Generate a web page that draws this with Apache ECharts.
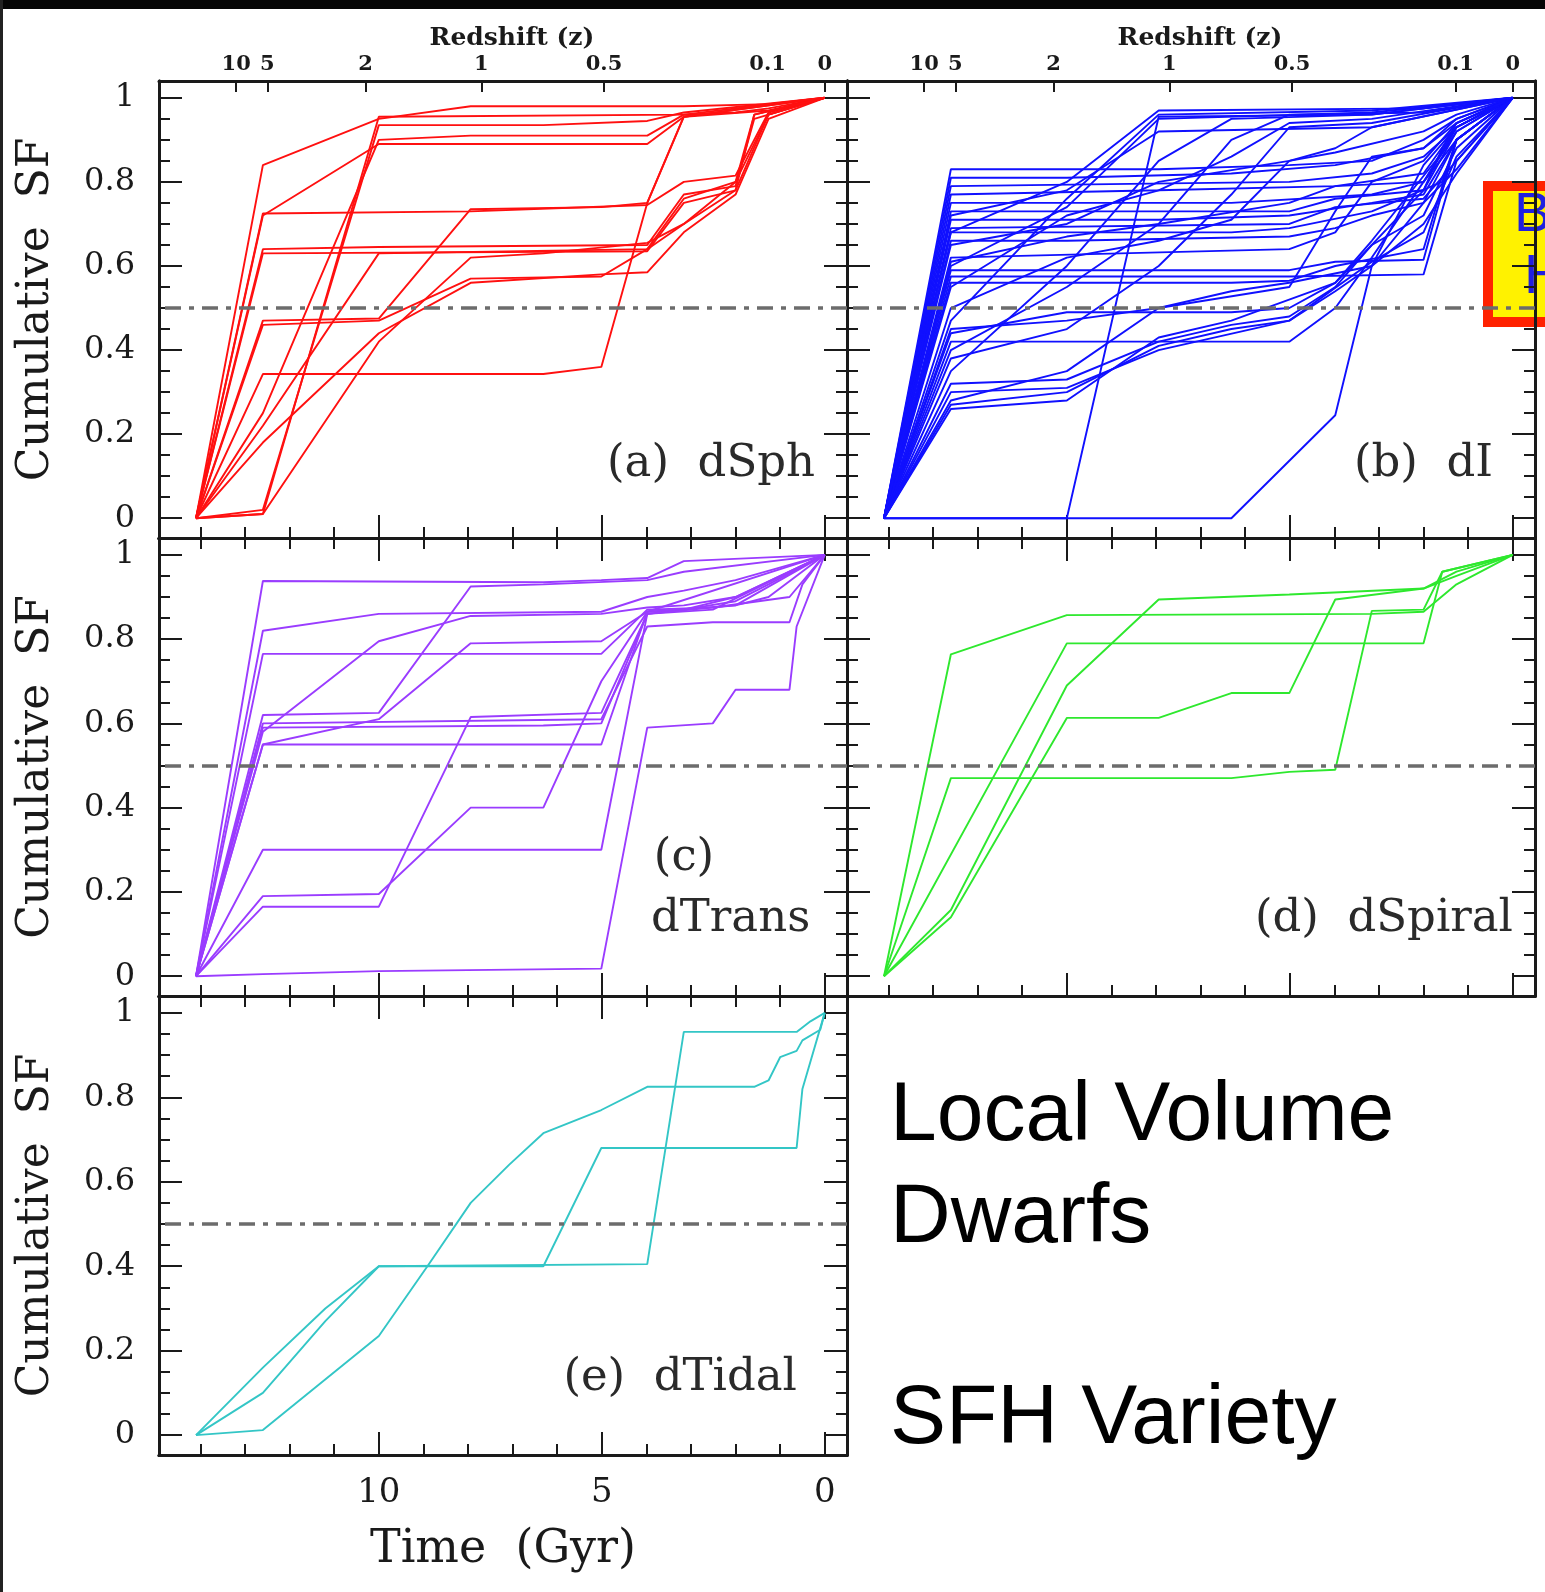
<!DOCTYPE html>
<html>
<head>
<meta charset="utf-8">
<title>Local Volume Dwarfs - SFH variety</title>
<script src="https://cdn.jsdelivr.net/npm/echarts@6/dist/echarts.min.js"></script>
<style>
  html, body { margin: 0; padding: 0; background: #fff; }
  #main { width: 1545px; height: 1592px; }
</style>
</head>
<body>
<div id="main"></div>
<script>
// ticks (lookback time in Gyr, cumulative SF fraction)
const timeMinorTicks = [0, 1, 2, 3, 4, 5, 6, 7, 8, 9, 10, 11, 12, 13, 14];
const timeMajorTicks = [0, 5, 10];
const sfMinorTicks = [0, 0.05, 0.1, 0.15, 0.2, 0.25, 0.3, 0.35, 0.4, 0.45, 0.5,
  0.55, 0.6, 0.65, 0.7, 0.75, 0.8, 0.85, 0.9, 0.95, 1];
const sfMajorTicks = [0, 0.2, 0.4, 0.6, 0.8, 1];
// redshift ticks on the top axis, placed at their lookback time
const redshiftTimes = [13.2, 12.5, 10.3, 7.7, 4.95, 1.28, 0];
const redshiftLabels = ['10', '5', '2', '1', '0.5', '0.1', '0'];

// each track: [time (Gyr ago), cumulative SF]
const dSphTracks = [
  [[14.1, 0], [12.6, 0.84], [10.0, 0.95], [7.94, 0.98], [3.16, 0.98], [1.26, 0.985], [0, 1]],
  [[14.1, 0], [12.6, 0.01], [10.0, 0.955], [3.16, 0.96], [2.0, 0.965], [1.26, 0.975], [0, 1]],
  [[14.1, 0], [12.6, 0.02], [10.0, 0.935], [6.31, 0.935], [3.98, 0.945], [3.16, 0.965], [0, 1]],
  [[14.1, 0], [12.6, 0.72], [10.0, 0.89], [3.98, 0.89], [3.16, 0.955], [1.26, 0.97], [0, 1]],
  [[14.1, 0], [12.6, 0.725], [7.94, 0.73], [3.98, 0.745], [3.16, 0.8], [2.0, 0.815], [1.26, 0.965], [0, 1]],
  [[14.1, 0], [12.6, 0.64], [10.0, 0.645], [3.98, 0.65], [3.16, 0.77], [2.0, 0.79], [1.58, 0.95], [0, 1]],
  [[14.1, 0], [12.6, 0.63], [3.98, 0.635], [3.16, 0.75], [2.0, 0.78], [1.26, 0.96], [0, 1]],
  [[14.1, 0], [12.6, 0.47], [10.0, 0.475], [7.94, 0.735], [5.01, 0.74], [3.98, 0.75], [3.16, 0.955], [0, 1]],
  [[14.1, 0], [12.6, 0.46], [10.0, 0.47], [7.94, 0.57], [5.01, 0.575], [3.98, 0.64], [3.16, 0.76], [2.0, 0.8], [1.26, 0.96], [0, 1]],
  [[14.1, 0], [12.6, 0.343], [6.31, 0.343], [5.01, 0.36], [3.98, 0.75], [3.16, 0.955], [0, 1]],
  [[14.1, 0], [12.6, 0.22], [10.0, 0.63], [3.98, 0.64], [3.16, 0.7], [2.0, 0.8], [1.58, 0.96], [0, 1]],
  [[14.1, 0], [12.6, 0.18], [10.0, 0.44], [7.94, 0.56], [5.01, 0.58], [3.98, 0.585], [3.16, 0.68], [2.0, 0.77], [1.26, 0.95], [0, 1]],
  [[14.1, 0], [12.6, 0.01], [10.0, 0.42], [7.94, 0.62], [6.31, 0.63], [3.98, 0.655], [3.16, 0.7], [2.0, 0.78], [1.58, 0.96], [0, 1]],
  [[14.1, 0], [12.6, 0.25], [10.0, 0.9], [7.94, 0.91], [3.98, 0.91], [3.16, 0.96], [0, 1]]
];

const dITracks = [
  [[14.1, 0], [12.6, 0.83], [7.94, 0.83], [5.01, 0.84], [3.16, 0.85], [2.0, 0.9], [1.26, 0.95], [0, 1]],
  [[14.1, 0], [12.6, 0.81], [10.0, 0.81], [6.31, 0.82], [3.98, 0.84], [2.0, 0.88], [1.26, 0.95], [0, 1]],
  [[14.1, 0], [12.6, 0.79], [5.01, 0.8], [3.16, 0.82], [2.0, 0.86], [1.26, 0.93], [0, 1]],
  [[14.1, 0], [12.6, 0.77], [7.94, 0.78], [3.98, 0.79], [2.0, 0.82], [1.26, 0.93], [0, 1]],
  [[14.1, 0], [12.6, 0.75], [6.31, 0.75], [3.16, 0.77], [2.0, 0.8], [1.26, 0.9], [0, 1]],
  [[14.1, 0], [12.6, 0.73], [5.01, 0.73], [3.98, 0.76], [2.0, 0.78], [1.58, 0.88], [1.26, 0.94], [0, 1]],
  [[14.1, 0], [12.6, 0.71], [7.94, 0.71], [5.01, 0.72], [3.16, 0.75], [2.0, 0.77], [1.26, 0.9], [0, 1]],
  [[14.1, 0], [12.6, 0.69], [5.01, 0.7], [3.98, 0.74], [2.0, 0.76], [1.26, 0.85], [0, 1]],
  [[14.1, 0], [12.6, 0.68], [6.31, 0.68], [5.01, 0.69], [3.16, 0.73], [1.58, 0.8], [1.26, 0.9], [0, 1]],
  [[14.1, 0], [12.6, 0.66], [10.0, 0.66], [5.01, 0.67], [3.98, 0.69], [3.16, 0.72], [2.0, 0.75], [1.26, 0.83], [0, 1]],
  [[14.1, 0], [12.6, 0.61], [10.0, 0.67], [7.94, 0.7], [5.01, 0.75], [3.98, 0.79], [2.0, 0.8], [1.26, 0.92], [0, 1]],
  [[14.1, 0], [12.6, 0.59], [5.01, 0.59], [3.98, 0.61], [2.0, 0.615], [1.26, 0.9], [0, 1]],
  [[14.1, 0], [12.6, 0.575], [5.01, 0.575], [2.0, 0.58], [1.26, 0.85], [0, 1]],
  [[14.1, 0], [12.6, 0.56], [6.31, 0.56], [5.01, 0.565], [3.98, 0.6], [2.0, 0.64], [1.58, 0.79], [1.26, 0.9], [0, 1]],
  [[14.1, 0], [12.6, 0.45], [10.0, 0.47], [7.94, 0.5], [6.31, 0.54], [5.01, 0.56], [3.16, 0.6], [2.0, 0.75], [1.26, 0.9], [0, 1]],
  [[14.1, 0], [12.6, 0.42], [5.01, 0.42], [3.98, 0.5], [3.16, 0.62], [2.0, 0.8], [1.26, 0.93], [0, 1]],
  [[14.1, 0], [12.6, 0.44], [10.0, 0.49], [6.31, 0.49], [5.01, 0.5], [3.98, 0.56], [3.16, 0.65], [2.0, 0.78], [1.26, 0.92], [0, 1]],
  [[14.1, 0], [12.6, 0.32], [10.0, 0.33], [7.94, 0.42], [6.31, 0.46], [5.01, 0.48], [3.98, 0.55], [3.16, 0.65], [2.0, 0.72], [1.26, 0.88], [0, 1]],
  [[14.1, 0], [12.6, 0.3], [10.0, 0.31], [7.94, 0.4], [5.01, 0.47], [3.98, 0.54], [3.16, 0.6], [2.0, 0.7], [1.26, 0.82], [0, 1]],
  [[14.1, 0], [12.6, 0.27], [10.0, 0.3], [7.94, 0.41], [6.31, 0.45], [5.01, 0.47], [3.16, 0.61], [2.0, 0.68], [1.26, 0.86], [0, 1]],
  [[14.1, 0], [12.6, 0.26], [10.0, 0.28], [7.94, 0.43], [6.31, 0.47], [3.98, 0.56], [3.16, 0.66], [1.58, 0.87], [1.26, 0.93], [0, 1]],
  [[14.1, 0], [10.0, 0], [7.94, 0.955], [3.16, 0.96], [0, 1]],
  [[14.1, 0], [6.31, 0], [3.98, 0.245], [3.16, 0.6], [2.0, 0.84], [1.26, 0.93], [0, 1]],
  [[14.1, 0], [12.6, 0.6], [10.0, 0.74], [7.94, 0.95], [3.16, 0.965], [0, 1]],
  [[14.1, 0], [12.6, 0.47], [10.0, 0.76], [7.94, 0.96], [3.16, 0.97], [0, 1]],
  [[14.1, 0], [12.6, 0.35], [10.0, 0.6], [7.94, 0.85], [6.31, 0.95], [3.16, 0.96], [0, 1]],
  [[14.1, 0], [12.6, 0.55], [10.0, 0.72], [7.94, 0.78], [6.31, 0.86], [5.01, 0.94], [3.16, 0.95], [0, 1]],
  [[14.1, 0], [12.6, 0.5], [10.0, 0.62], [7.94, 0.66], [6.31, 0.71], [5.01, 0.85], [3.98, 0.88], [3.16, 0.93], [0, 1]],
  [[14.1, 0], [12.6, 0.38], [10.0, 0.45], [7.94, 0.6], [6.31, 0.77], [5.01, 0.93], [3.16, 0.94], [0, 1]],
  [[14.1, 0], [12.6, 0.28], [10.0, 0.35], [7.94, 0.5], [5.01, 0.55], [3.98, 0.73], [3.16, 0.86], [2.0, 0.88], [1.26, 0.94], [0, 1]],
  [[14.1, 0], [12.6, 0.62], [5.01, 0.64], [3.98, 0.68], [3.16, 0.8], [2.0, 0.85], [1.26, 0.94], [0, 1]],
  [[14.1, 0], [12.6, 0.65], [10.0, 0.7], [7.94, 0.8], [5.01, 0.85], [3.98, 0.87], [2.0, 0.92], [1.26, 0.96], [0, 1]],
  [[14.1, 0], [12.6, 0.72], [10.0, 0.78], [7.94, 0.92], [3.16, 0.93], [0, 1]],
  [[14.1, 0], [12.6, 0.68], [10.0, 0.8], [7.94, 0.97], [2.0, 0.975], [0, 1]],
  [[14.1, 0], [12.6, 0.4], [10.0, 0.55], [7.94, 0.7], [6.31, 0.9], [5.01, 0.96], [2.0, 0.965], [0, 1]]
];

const dTransTracks = [
  [[14.1, 0], [12.6, 0.938], [6.31, 0.935], [5.01, 0.94], [3.98, 0.945], [3.16, 0.985], [0, 1]],
  [[14.1, 0], [12.6, 0.82], [10.0, 0.86], [5.01, 0.865], [3.98, 0.9], [3.16, 0.915], [2.0, 0.94], [0, 1]],
  [[14.1, 0], [12.6, 0.765], [5.01, 0.765], [3.98, 0.87], [2.51, 0.875], [0.79, 0.9], [0, 1]],
  [[14.1, 0], [12.6, 0.62], [10.0, 0.625], [7.94, 0.925], [6.31, 0.93], [3.98, 0.94], [3.16, 0.96], [0, 1]],
  [[14.1, 0], [12.6, 0.58], [10.0, 0.795], [7.94, 0.855], [5.01, 0.86], [3.98, 0.875], [3.16, 0.88], [2.0, 0.9], [0, 1]],
  [[14.1, 0], [12.6, 0.55], [10.0, 0.61], [7.94, 0.79], [5.01, 0.795], [3.98, 0.865], [3.16, 0.87], [2.0, 0.9], [0, 1]],
  [[14.1, 0], [12.6, 0.59], [6.31, 0.595], [5.01, 0.6], [3.98, 0.86], [3.16, 0.87], [2.0, 0.89], [1.26, 0.93], [0, 1]],
  [[14.1, 0], [12.6, 0.55], [5.01, 0.55], [3.98, 0.865], [2.0, 0.88], [1.26, 0.9], [0, 1]],
  [[14.1, 0], [12.6, 0.3], [5.01, 0.3], [3.98, 0.86], [2.51, 0.87], [0, 1]],
  [[14.1, 0], [12.6, 0.19], [10.0, 0.195], [7.94, 0.4], [6.31, 0.4], [5.01, 0.7], [3.98, 0.865], [0, 1]],
  [[14.1, 0], [12.6, 0.165], [10.0, 0.165], [7.94, 0.615], [5.01, 0.625], [3.98, 0.86], [2.0, 0.88], [0, 1]],
  [[14.1, 0], [12.6, 0.005], [10.0, 0.012], [5.01, 0.018], [3.98, 0.59], [2.51, 0.6], [2.0, 0.68], [0.79, 0.68], [0.63, 0.83], [0, 1]],
  [[14.1, 0], [12.6, 0.6], [5.01, 0.61], [3.98, 0.83], [2.51, 0.84], [0.79, 0.84], [0.5, 0.93], [0, 1]]
];

const dSpiralTracks = [
  [[14.1, 0], [12.6, 0.764], [10.0, 0.857], [3.16, 0.86], [2.0, 0.865], [1.26, 0.93], [0, 1]],
  [[14.1, 0], [12.6, 0.47], [6.31, 0.47], [5.01, 0.485], [3.98, 0.49], [3.16, 0.867], [2.0, 0.87], [1.58, 0.96], [0, 1]],
  [[14.1, 0], [12.6, 0.157], [10.0, 0.69], [7.94, 0.894], [5.01, 0.906], [2.0, 0.92], [1.26, 0.95], [0, 1]],
  [[14.1, 0], [12.6, 0.14], [10.0, 0.613], [7.94, 0.613], [6.31, 0.672], [5.01, 0.672], [3.98, 0.894], [2.0, 0.92], [1.26, 0.96], [0, 1]],
  [[14.1, 0], [10.0, 0.79], [2.0, 0.79], [1.58, 0.96], [0, 1]]
];

const dTidalTracks = [
  [[14.1, 0], [12.6, 0.012], [10.0, 0.235], [8.91, 0.4], [7.94, 0.55], [7.08, 0.64], [6.31, 0.715], [5.01, 0.77],
    [3.98, 0.825], [1.58, 0.825], [1.26, 0.84], [1.0, 0.895], [0.63, 0.91], [0.5, 0.935], [0.1, 0.96], [0, 1]],
  [[14.1, 0], [12.6, 0.16], [11.2, 0.3], [10.0, 0.4], [6.31, 0.4], [5.01, 0.68], [0.63, 0.68], [0.5, 0.82], [0, 1]],
  [[14.1, 0], [12.6, 0.1], [11.2, 0.27], [10.0, 0.4], [3.98, 0.405], [3.16, 0.955], [0.63, 0.955], [0.32, 0.98], [0, 1]]
];

const panelTracks = [dSphTracks, dITracks, dTransTracks, dSpiralTracks, dTidalTracks];
const panelColors = ['#ff1010', '#1010ff', '#9a3cff', '#2ee82e', '#33c6c6'];

// layout of the five frames
const panelLayout = [
  { left: 159, top: 81, height: 457, redshift: true, yLabels: true, tLabels: false },
  { left: 847, top: 81, height: 457, redshift: true, yLabels: false, tLabels: false },
  { left: 159, top: 538, height: 458, redshift: false, yLabels: true, tLabels: false },
  { left: 847, top: 538, height: 458, redshift: false, yLabels: false, tLabels: false },
  { left: 159, top: 996, height: 459, redshift: false, yLabels: true, tLabels: true }
];

const SERIF = 'DejaVu Serif';
const SANS = 'Liberation Sans';
const INK = '#1a1a1a';

function frameAxis(g, position, ticks, len, isX) {
  return {
    type: 'value',
    gridIndex: g,
    position: position,
    min: isX ? -0.5 : -0.047,
    max: isX ? 14.93 : 1.04,
    inverse: isX,
    axisLine: { show: true, onZero: false, lineStyle: { color: INK, width: 3 } },
    axisTick: { show: true, inside: true, length: len, customValues: ticks, lineStyle: { color: INK, width: 2 } },
    axisLabel: { show: false },
    splitLine: { show: false }
  };
}

const grids = [];
const xAxes = [];
const yAxes = [];
const series = [];

panelLayout.forEach((p, g) => {
  grids.push({ left: p.left, top: p.top, width: 688, height: p.height });

  // x axes: bottom minor / major, top redshift or time ticks
  const xi = xAxes.length;
  xAxes.push(frameAxis(g, 'bottom', timeMinorTicks, 11, true));
  const bottomMajor = frameAxis(g, 'bottom', timeMajorTicks, 23, true);
  if (p.tLabels) {
    bottomMajor.axisLabel = {
      show: true, customValues: timeMajorTicks, margin: 21,
      fontFamily: SERIF, fontSize: 34, color: INK
    };
    bottomMajor.name = 'Time  (Gyr)';
    bottomMajor.nameLocation = 'middle';
    bottomMajor.nameGap = 72;
    bottomMajor.nameTextStyle = { fontFamily: SERIF, fontSize: 46, color: INK };
  }
  xAxes.push(bottomMajor);
  if (p.redshift) {
    const zAxis = frameAxis(g, 'top', redshiftTimes, 11, true);
    zAxis.axisLabel = {
      show: true, customValues: redshiftTimes, margin: 6,
      fontFamily: SERIF, fontWeight: 'bold', fontSize: 21, color: INK,
      formatter: v => redshiftLabels[redshiftTimes.indexOf(v)]
    };
    zAxis.name = 'Redshift (z)';
    zAxis.nameLocation = 'middle';
    zAxis.nameGap = 30;
    zAxis.nameTextStyle = { fontFamily: SERIF, fontWeight: 'bold', fontSize: 25, color: INK, padding: [0, 0, 0, 18] };
    xAxes.push(zAxis);
  } else {
    xAxes.push(frameAxis(g, 'top', timeMinorTicks, 11, true));
    xAxes.push(frameAxis(g, 'top', timeMajorTicks, 23, true));
  }

  // y axes: left and right, minor / major
  const yi = yAxes.length;
  yAxes.push(frameAxis(g, 'left', sfMinorTicks, 11, false));
  const leftMajor = frameAxis(g, 'left', sfMajorTicks, 23, false);
  if (p.yLabels) {
    leftMajor.axisLabel = {
      show: true, customValues: sfMajorTicks, margin: 24,
      fontFamily: SERIF, fontSize: 32, color: INK,
      formatter: v => String(v)
    };
    leftMajor.name = 'Cumulative  SF';
    leftMajor.nameLocation = 'middle';
    leftMajor.nameGap = 100;
    leftMajor.nameTextStyle = { fontFamily: SERIF, fontSize: 44, color: INK };
  }
  yAxes.push(leftMajor);
  yAxes.push(frameAxis(g, 'right', sfMinorTicks, 11, false));
  yAxes.push(frameAxis(g, 'right', sfMajorTicks, 23, false));

  panelTracks[g].forEach((track, k) => {
    const s = {
      type: 'line',
      xAxisIndex: xi,
      yAxisIndex: yi,
      data: track,
      symbol: 'none',
      silent: true,
      lineStyle: { color: panelColors[g], width: 1.9 },
      itemStyle: { color: panelColors[g] }
    };
    if (k === 0) {
      // half-mass reference line
      s.markLine = {
        silent: true,
        symbol: ['none', 'none'],
        label: { show: false },
        lineStyle: { color: '#6c6c6c', width: 3.5, type: [16, 8, 5, 8] },
        data: [{ yAxis: 0.5 }]
      };
    }
    series.push(s);
  });
});

const panelNotes = [
  { text: '(a)  dSph', x: 815, y: 464, align: 'right' },
  { text: '(b)  dI', x: 1493, y: 464, align: 'right' },
  { text: '(c)', x: 684, y: 858, align: 'center' },
  { text: 'dTrans', x: 651, y: 919, align: 'left' },
  { text: '(d)  dSpiral', x: 1513, y: 919, align: 'right' },
  { text: '(e)  dTidal', x: 797, y: 1378, align: 'right' }
];

const graphic = [
  { type: 'rect', shape: { x: 0, y: 0, width: 1545, height: 9 }, style: { fill: '#050505' } },
  { type: 'rect', shape: { x: 0, y: 0, width: 3, height: 1592 }, style: { fill: '#222' } },
  { type: 'rect', shape: { x: 1488, y: 186, width: 90, height: 136 }, style: { fill: '#fff200', stroke: '#ff2200', lineWidth: 10 } },
  { type: 'text', x: 1514, y: 216, style: { text: 'B', fontFamily: SANS, fontSize: 56, fill: '#2020e0', textVerticalAlign: 'middle' } },
  { type: 'text', x: 1524, y: 278, style: { text: 'H', fontFamily: SANS, fontSize: 56, fill: '#2020e0', textVerticalAlign: 'middle' } },
  { type: 'text', x: 890, y: 1117, style: { text: 'Local Volume', fontFamily: SANS, fontSize: 84, fill: '#000', textVerticalAlign: 'middle' } },
  { type: 'text', x: 890, y: 1219, style: { text: 'Dwarfs', fontFamily: SANS, fontSize: 84, fill: '#000', textVerticalAlign: 'middle' } },
  { type: 'text', x: 890, y: 1420, style: { text: 'SFH Variety', fontFamily: SANS, fontSize: 84, fill: '#000', textVerticalAlign: 'middle' } }
];
panelNotes.forEach(n => {
  graphic.push({
    type: 'text', x: n.x, y: n.y, z: 10,
    style: { text: n.text, fontFamily: SERIF, fontSize: 45, fill: '#2a2a2a', textAlign: n.align, textVerticalAlign: 'middle' }
  });
});

const chart = echarts.init(document.getElementById('main'));
chart.setOption({
  animation: false,
  backgroundColor: '#ffffff',
  grid: grids,
  xAxis: xAxes,
  yAxis: yAxes,
  series: series,
  graphic: graphic
});
</script>
</body>
</html>
